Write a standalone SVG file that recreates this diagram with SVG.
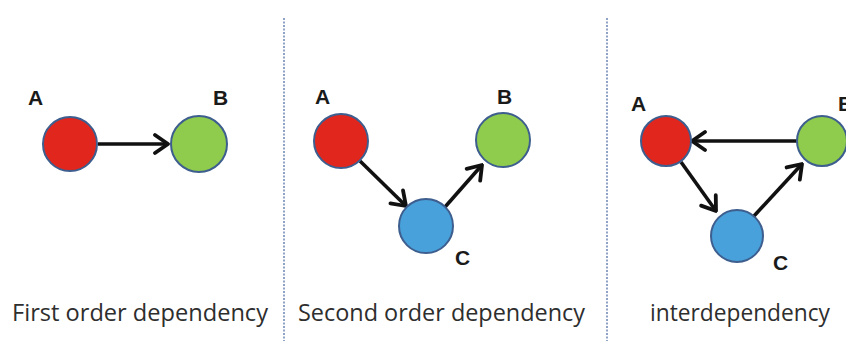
<svg xmlns="http://www.w3.org/2000/svg" width="846" height="341" viewBox="0 0 846 341">
<defs>
<marker id="ah" viewBox="-16 -12 18 24" markerWidth="18" markerHeight="24" refX="0" refY="0" orient="auto" markerUnits="userSpaceOnUse">
<path d="M-13,-9 L0,0 L-13,9" fill="none" stroke="#111" stroke-width="3.8" stroke-linecap="round" stroke-linejoin="round"/>
</marker>
<style>
.n{stroke:#3d5e8e;stroke-width:2}
.r{fill:#e1261e}.g{fill:#8fcb4c}.b{fill:#48a1da}
.l{font-family:"Liberation Sans",Arial,sans-serif;font-weight:bold;font-size:21px;fill:#1a1a1a}
.t{font-family:"Open Sans","Liberation Sans",sans-serif;font-size:23px;fill:#2e2e2e}
.e{stroke:#111;stroke-width:3.6;fill:none;marker-end:url(#ah)}
.d{stroke:#8fa3c6;stroke-width:2;stroke-dasharray:2 1.5}
</style>
</defs>
<rect width="846" height="341" fill="#fff"/>
<g id="dividers">
<line class="d" x1="284" y1="18" x2="284" y2="341"/>
<line class="d" x1="607" y1="18" x2="607" y2="341"/>
</g>
<g id="connectors">
<line class="e" x1="98" y1="144" x2="168" y2="144"/>
<line class="e" x1="360" y1="161" x2="406" y2="206"/>
<line class="e" x1="445" y1="207" x2="482" y2="165"/>
<line class="e" x1="797" y1="141" x2="692" y2="141"/>
<line class="e" x1="681" y1="162" x2="716" y2="211"/>
<line class="e" x1="754" y1="216" x2="802" y2="164"/>
</g>
<g id="p1A"><circle class="n r" cx="70" cy="144" r="27"/><text class="l" x="28" y="105">A</text></g>
<g id="p1B"><circle class="n g" cx="199" cy="144" r="28"/><text class="l" x="213" y="105">B</text></g>
<g id="p2A"><circle class="n r" cx="341" cy="141" r="27"/><text class="l" x="315" y="104">A</text></g>
<g id="p2B"><circle class="n g" cx="503" cy="140" r="27"/><text class="l" x="497" y="104">B</text></g>
<g id="p2C"><circle class="n b" cx="426" cy="226" r="27"/><text class="l" x="455" y="265">C</text></g>
<g id="p3A"><circle class="n r" cx="666" cy="141" r="25"/><text class="l" x="631" y="111">A</text></g>
<g id="p3B"><circle class="n g" cx="822" cy="141" r="25"/><text class="l" x="838" y="111">B</text></g>
<g id="p3C"><circle class="n b" cx="737" cy="236" r="26"/><text class="l" x="773" y="270">C</text></g>
<g id="captions">
<text class="t" x="12" y="321" textLength="256" lengthAdjust="spacingAndGlyphs">First order dependency</text>
<text class="t" x="298" y="321" textLength="287" lengthAdjust="spacingAndGlyphs">Second order dependency</text>
<text class="t" x="650" y="321" textLength="180" lengthAdjust="spacingAndGlyphs">interdependency</text>
</g>
</svg>
